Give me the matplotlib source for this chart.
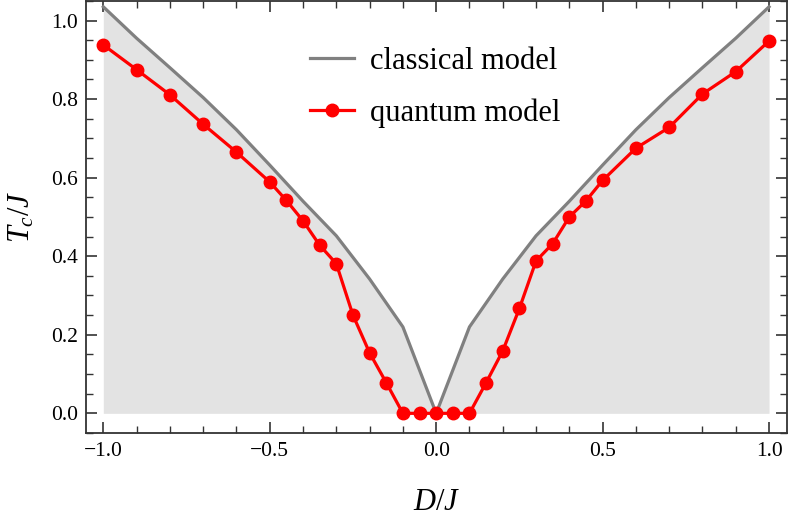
import matplotlib
matplotlib.use("Agg")
import matplotlib.pyplot as plt
from matplotlib.ticker import MultipleLocator

plt.rcParams['font.family'] = ['Liberation Serif', 'DejaVu Serif']
plt.rcParams['mathtext.fontset'] = 'custom'
plt.rcParams['mathtext.it'] = 'Liberation Serif:italic'
plt.rcParams['mathtext.rm'] = 'Liberation Serif'

# classical model
D_classical = [-1.0, -0.9, -0.8, -0.7, -0.6, -0.5, -0.4, -0.3, -0.2, -0.1, 0.0,
               0.1, 0.2, 0.3, 0.4, 0.5, 0.6, 0.7, 0.8, 0.9, 1.0]
Tc_classical = [1.035, 0.955, 0.880, 0.804, 0.722, 0.632, 0.540, 0.452, 0.342, 0.220, 0.0,
                0.220, 0.342, 0.452, 0.540, 0.632, 0.722, 0.804, 0.880, 0.955, 1.035]

# quantum model
D_quantum = [-1.0, -0.9, -0.8, -0.7, -0.6, -0.5, -0.45, -0.4, -0.35, -0.3, -0.25, -0.2,
             -0.15, -0.1, -0.05, 0.0, 0.05, 0.1, 0.15, 0.2, 0.25, 0.3, 0.35, 0.4,
             0.45, 0.5, 0.6, 0.7, 0.8, 0.9, 1.0]
Tc_quantum = [0.938, 0.875, 0.811, 0.736, 0.665, 0.589, 0.542, 0.490, 0.428, 0.381, 0.250, 0.154,
              0.078, 0.0, 0.0, 0.0, 0.0, 0.0, 0.078, 0.159, 0.267, 0.388, 0.432, 0.500,
              0.541, 0.593, 0.675, 0.728, 0.813, 0.870, 0.948]

fig = plt.figure(figsize=(7.89, 5.19), dpi=100)
ax = fig.add_axes([0.109, 0.165, 0.8885, 0.834])

ax.fill_between(D_classical, 0, Tc_classical, color='#e3e3e3', linewidth=0, zorder=1)
ax.plot(D_classical, Tc_classical, color='#808080', lw=2.3, label='classical model', zorder=2)
ax.plot(D_quantum, Tc_quantum, color='#ff0000', lw=2.3, marker='o', ms=9,
        label='quantum model', zorder=3)

ax.set_xlim(-1.052, 1.054)
ax.set_ylim(-0.051, 1.051)
ax.xaxis.set_major_locator(MultipleLocator(0.5))
ax.xaxis.set_minor_locator(MultipleLocator(0.1))
ax.yaxis.set_major_locator(MultipleLocator(0.2))
ax.yaxis.set_minor_locator(MultipleLocator(0.05))
ax.xaxis.set_major_formatter(matplotlib.ticker.FuncFormatter(lambda v, p: ('%.1f' % v).replace('-', '\u2212')))
ax.yaxis.set_major_formatter(matplotlib.ticker.FuncFormatter(lambda v, p: '%.1f' % v))

ax.tick_params(which='both', direction='in', top=True, right=True, color='#333333')
ax.tick_params(which='major', length=8, width=1.2, labelsize=15.5, pad=6)
ax.tick_params(which='minor', length=5, width=1.0)
for s in ax.spines.values():
    s.set_color('#333333')
    s.set_linewidth(1.3)

ax.set_xlabel(r'$D/J$', fontsize=22, labelpad=20)
ax.set_ylabel(r'$T_c/J$', fontsize=22, labelpad=10)

leg = ax.legend(loc='upper left', bbox_to_anchor=(0.298, 0.928), frameon=False, fontsize=22,
                borderpad=0, handlelength=1.44, handletextpad=0.52, labelspacing=0.73)

fig.savefig('out.png', dpi=100)
